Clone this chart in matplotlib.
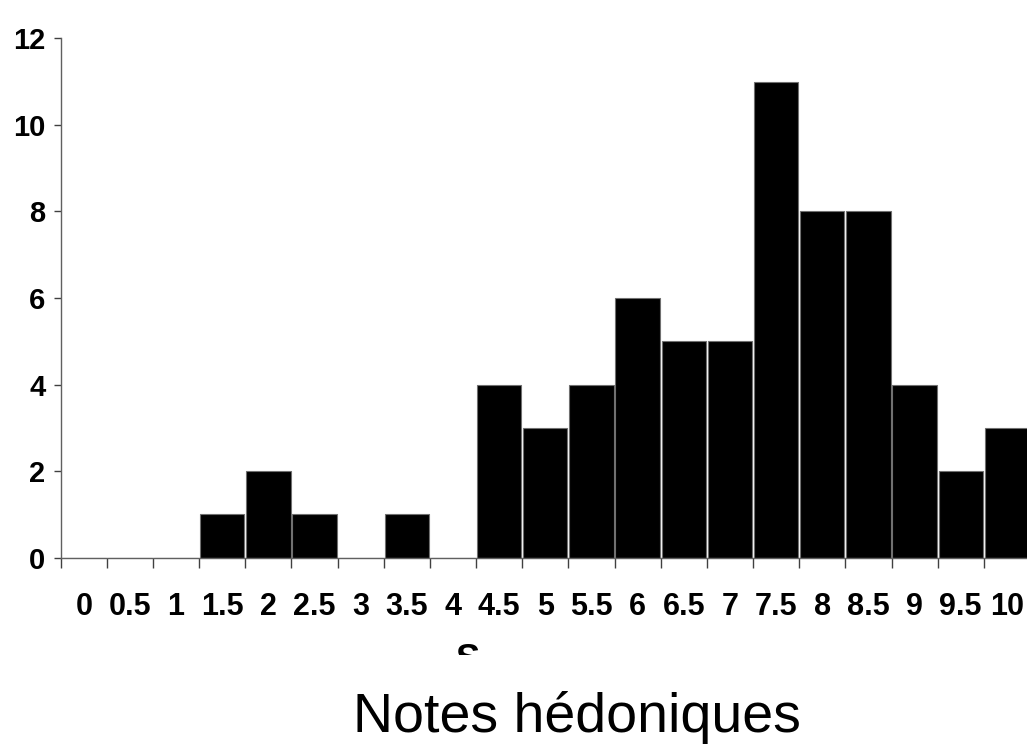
import matplotlib as mpl
mpl.use('Agg')
import matplotlib.pyplot as plt
from matplotlib.transforms import Bbox
import numpy as np

notes = [0, 0.5, 1, 1.5, 2, 2.5, 3, 3.5, 4, 4.5, 5, 5.5, 6, 6.5, 7, 7.5, 8, 8.5, 9, 9.5, 10]
effectifs = [0, 0, 0, 1, 2, 1, 0, 1, 0, 4, 3, 4, 6, 5, 5, 11, 8, 8, 4, 2, 3]
labels = ['0', '0.5', '1', '1.5', '2', '2.5', '3', '3.5', '4', '4.5', '5', '5.5',
          '6', '6.5', '7', '7.5', '8', '8.5', '9', '9.5', '10']

fam = 'Liberation Sans'

fig = plt.figure(figsize=(10.27, 7.47), dpi=100)
ax = fig.add_axes([0.0591, 0.2534, 0.9438, 0.6953])

x = np.arange(len(notes))
ax.bar(x, effectifs, width=0.96, color='black', edgecolor='#707070', linewidth=0.8)

ax.set_xlim(-0.5, len(notes) - 0.5)
ax.set_ylim(0, 12)
ax.set_yticks(range(0, 13, 2))
ax.set_yticklabels([str(v) for v in range(0, 13, 2)], family=fam,
                   fontweight='bold', fontsize=21)

ax.set_xticks(np.arange(-0.5, len(notes) - 0.5, 1))
ax.set_xticklabels([])
ax.set_xticks(x, minor=True)
ax.set_xticklabels(labels, minor=True, family=fam, fontweight='bold', fontsize=22)
ax.tick_params(axis='x', which='major', direction='out', length=7, width=1, color='#404040')
ax.tick_params(axis='x', which='minor', length=0, pad=25)
ax.tick_params(axis='y', direction='out', length=5, width=1, color='#404040', pad=6)

for s in ['top', 'right']:
    ax.spines[s].set_visible(False)
for s in ['left', 'bottom']:
    ax.spines[s].set_color('#606060')
    ax.spines[s].set_linewidth(1)

# bout de titre d'axe coupé sous les étiquettes
t = fig.text(468 / 1027, 1 - 643 / 747, 'S', ha='center', va='top',
             family=fam, fontweight='bold', fontsize=26)
t.set_clip_box(Bbox([[0, 92], [1027, 747]]))
t.set_clip_on(True)

fig.text(577 / 1027, 15 / 747, 'Notes hédoniques', ha='center', va='baseline',
         family=fam, fontsize=40)

fig.savefig('out.png', dpi=100)
